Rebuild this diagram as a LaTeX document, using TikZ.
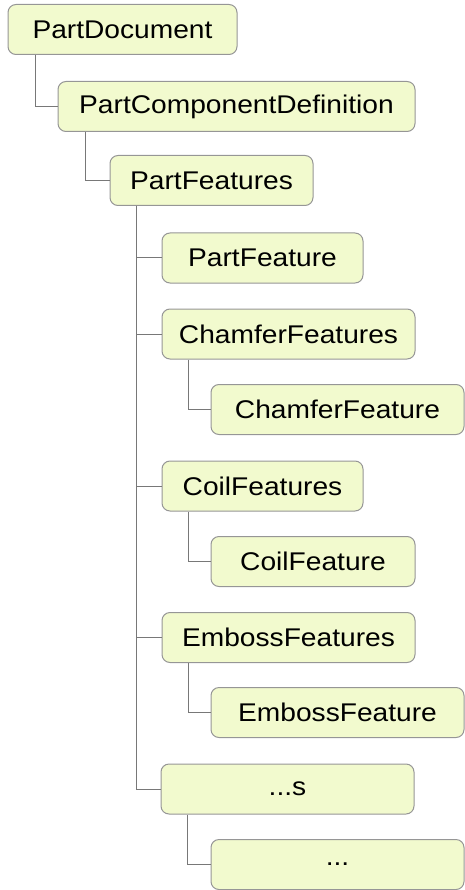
\documentclass[tikz,border=0pt]{standalone}
\usepackage{fontspec}
\setmainfont{Liberation Sans}[FakeStretch=1.1]
\definecolor{boxfill}{RGB}{242,250,206}
\definecolor{boxline}{RGB}{150,150,150}
\definecolor{conn}{RGB}{120,120,120}
\begin{document}
\begin{tikzpicture}[x=1pt,y=-1pt,
  box/.style={draw=boxline, line width=1pt, fill=boxfill, rounded corners=8pt,
    minimum height=50pt, inner sep=0pt, text=black,
    font=\fontsize{25.6}{30}\selectfont},
  link/.style={draw=conn, line width=1pt}]
\useasboundingbox (0,0) rectangle (465,890);
\node[box, minimum width=229pt] (doc) at (122.5,29.5) {PartDocument};
\node[box, minimum width=357pt] (pcd) at (236.5,106.5) {PartComponentDefinition};
\node[box, minimum width=203pt] (pfs) at (211.5,180.5) {PartFeatures};
\node[box, minimum width=201pt] (pf)  at (262.5,258) {PartFeature};
\node[box, minimum width=253pt] (chs) at (288.5,334) {ChamferFeatures};
\node[box, minimum width=253pt] (ch)  at (337.5,409.5) {ChamferFeature};
\node[box, minimum width=201pt] (cos) at (262.5,486) {CoilFeatures};
\node[box, minimum width=204pt] (co)  at (313,561.5) {CoilFeature};
\node[box, minimum width=253pt] (ems) at (288.5,637.5) {EmbossFeatures};
\node[box, minimum width=253pt] (em)  at (337.5,712.5) {EmbossFeature};
\node[box, minimum width=253pt] (ds)  at (287.5,789) {...s};
\node[box, minimum width=253pt] (dd)  at (337.5,864.5) {...};
\draw[link] ([xshift=28pt]doc.south west) |- (pcd.west);
\draw[link] ([xshift=28pt]pcd.south west) |- (pfs.west);
\draw[link] ([xshift=27pt]pfs.south west) |- (pf.west);
\draw[link] ([xshift=27pt]pfs.south west) |- (chs.west);
\draw[link] ([xshift=27pt]pfs.south west) |- (cos.west);
\draw[link] ([xshift=27pt]pfs.south west) |- (ems.west);
\draw[link] ([xshift=27pt]pfs.south west) |- (ds.west);
\draw[link] ([xshift=27pt]chs.south west) |- (ch.west);
\draw[link] ([xshift=27pt]cos.south west) |- (co.west);
\draw[link] ([xshift=27pt]ems.south west) |- (em.west);
\draw[link] ([xshift=27pt]ds.south west) |- (dd.west);
\end{tikzpicture}
\end{document}
